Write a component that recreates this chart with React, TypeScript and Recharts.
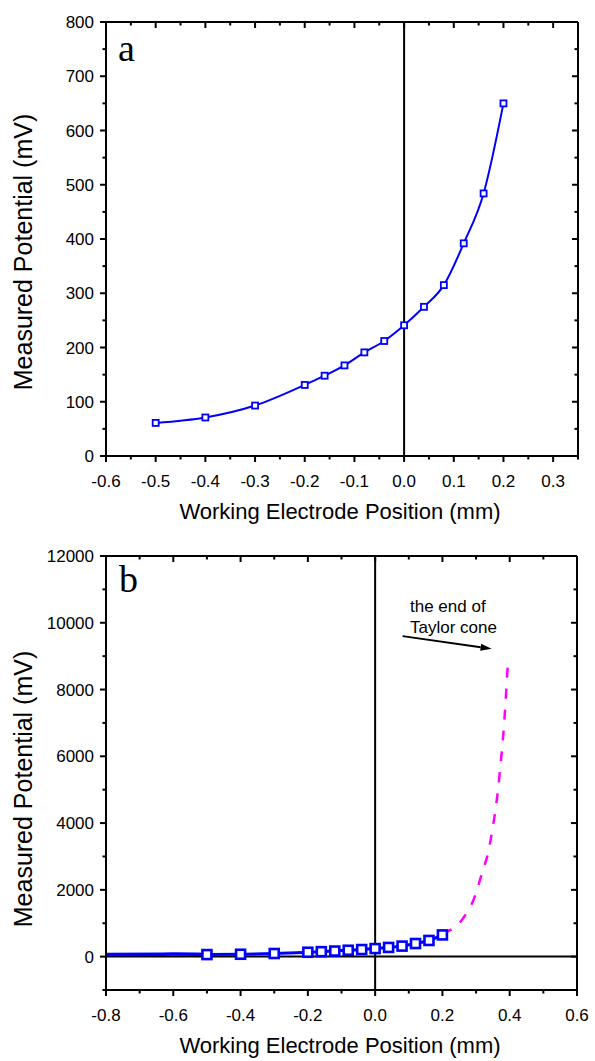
import { LineChart, Line, XAxis, YAxis, ReferenceLine } from "recharts";

// electrode position (mm) and measured potential (mV)
const positions = [-0.5, -0.4, -0.3, -0.2, -0.16, -0.12, -0.08, -0.04, 0, 0.04, 0.08, 0.12, 0.16, 0.2];
const potentials = [61, 71, 93, 131, 148, 167, 191, 212, 241, 275, 315, 392, 484, 650];

// panel b: line running in from the left edge
const tailPositions = [-0.8, -0.6, -0.5];
const tailPotentials = [60, 75, 61];

// panel b: dashed extrapolation up to the end of the Taylor cone
const conePositions = [0.2, 0.26, 0.297, 0.318, 0.336, 0.348, 0.358, 0.366, 0.373, 0.379, 0.387, 0.395];
const conePotentials = [700, 1130, 1820, 2520, 3120, 3770, 4420, 5070, 5780, 6420, 7520, 8900];

// annotation arrow, from text to curve
const arrowFrom = { x: 0.0815, y: 9600 };
const arrowTo = { x: 0.346, y: 9220 };

const aXTicks = [-0.6, -0.5, -0.4, -0.3, -0.2, -0.1, 0, 0.1, 0.2, 0.3];
const aXMinor = [-0.55, -0.45, -0.35, -0.25, -0.15, -0.05, 0.05, 0.15, 0.25, 0.35];
const aYTicks = [0, 100, 200, 300, 400, 500, 600, 700, 800];
const aYMinor = [50, 150, 250, 350, 450, 550, 650, 750];

const bXTicks = [-0.8, -0.6, -0.4, -0.2, 0, 0.2, 0.4, 0.6];
const bXMinor = [-0.7, -0.5, -0.3, -0.1, 0.1, 0.3, 0.5];
const bYTicks = [0, 2000, 4000, 6000, 8000, 10000, 12000];
const bYMinor = [-1000, 1000, 3000, 5000, 7000, 9000, 11000];

const mainData = positions.map((x, i) => ({ x, y: potentials[i] }));
const tailData = tailPositions.map((x, i) => ({ x, y: tailPotentials[i] }));
const coneData = conePositions.map((x, i) => ({ x, y: conePotentials[i] }));

const BLUE = "#0000ff";
const axisLine = { stroke: "#000", strokeWidth: 2 };

const isMajor = (majors: number[], v: number) => majors.some((m) => Math.abs(m - v) < 1e-9);

// bottom ticks, mirrored inward on the top edge
const makeXTick = (majors: number[], plotH: number) => (p: any) => {
  const v = p.payload.value;
  const major = isMajor(majors, v);
  const len = major ? 6 : 3.5;
  return (
    <g>
      <line x1={p.x} y1={p.y} x2={p.x} y2={p.y + len} stroke="#000" strokeWidth={2} />
      <line x1={p.x} y1={p.y - plotH} x2={p.x} y2={p.y - plotH + len} stroke="#000" strokeWidth={2} />
      {major && (
        <text x={p.x} y={p.y + 19} dy="0.71em" textAnchor="middle" fontSize={17} fill="#000">
          {v.toFixed(1)}
        </text>
      )}
    </g>
  );
};

// left ticks, mirrored inward on the right edge
const makeYTick = (majors: number[], plotW: number) => (p: any) => {
  const v = p.payload.value;
  const major = isMajor(majors, v);
  const len = major ? 6 : 3.5;
  return (
    <g>
      <line x1={p.x - len} y1={p.y} x2={p.x} y2={p.y} stroke="#000" strokeWidth={2} />
      <line x1={p.x + plotW - len} y1={p.y} x2={p.x + plotW} y2={p.y} stroke="#000" strokeWidth={2} />
      {major && (
        <text x={p.x - 12} y={p.y} dy="0.355em" textAnchor="end" fontSize={17} fill="#000">
          {v}
        </text>
      )}
    </g>
  );
};

const squareA = (p: any) => (
  <rect key={p.index} x={p.cx - 3} y={p.cy - 3} width={6} height={6} fill="#fff" stroke={BLUE} strokeWidth={1.8} />
);
const squareB = (p: any) => (
  <rect key={p.index} x={p.cx - 4.5} y={p.cy - 4.5} width={9} height={9} fill="#fff" stroke={BLUE} strokeWidth={2.6} />
);

const Arrow = (p: any) => {
  const { x1, y1, x2, y2 } = p;
  const ang = Math.atan2(y2 - y1, x2 - x1);
  const len = 11;
  const w = 3.5;
  const bx = x2 - len * Math.cos(ang);
  const by = y2 - len * Math.sin(ang);
  const pts = `${x2},${y2} ${bx - w * Math.sin(ang)},${by + w * Math.cos(ang)} ${bx + w * Math.sin(ang)},${by - w * Math.cos(ang)}`;
  return (
    <g>
      <line x1={x1} y1={y1} x2={bx} y2={by} stroke="#000" strokeWidth={2} />
      <polygon points={pts} fill="#000" />
    </g>
  );
};

function Frame({ xDomain, yDomain, xTicks, xMinor, yTicks, yMinor, plotW, plotH }: any) {
  const allX = [...xTicks, ...xMinor].sort((a, b) => a - b);
  const allY = [...yTicks, ...yMinor].sort((a, b) => a - b);
  return [
    <XAxis key="x" xAxisId="x" type="number" dataKey="x" domain={xDomain} ticks={allX} allowDataOverflow interval={0}
      height={1} tickSize={0} tickMargin={0} axisLine={axisLine} tickLine={false} tick={makeXTick(xTicks, plotH)} />,
    <YAxis key="y" yAxisId="y" type="number" domain={yDomain} ticks={allY} allowDataOverflow interval={0}
      width={1} tickSize={0} tickMargin={0} axisLine={axisLine} tickLine={false} tick={makeYTick(yTicks, plotW)} />,
    <ReferenceLine key="top" xAxisId="x" yAxisId="y" y={yDomain[1]} stroke="#000" strokeWidth={2} />,
    <ReferenceLine key="right" xAxisId="x" yAxisId="y" x={xDomain[1]} stroke="#000" strokeWidth={2} />,
  ];
}

export default function App() {
  return (
    <div style={{ position: "absolute", left: 0, top: 0, width: 595, height: 1061, background: "#fff", fontFamily: "'Liberation Sans', Arial, sans-serif" }}>
      <div style={{ position: "absolute", left: 0, top: 0 }}>
        <LineChart width={595} height={530} data={mainData} margin={{ top: 22, right: 17, bottom: 73, left: 105 }}>
          {Frame({ xDomain: [-0.6, 0.35], yDomain: [0, 800], xTicks: aXTicks, xMinor: aXMinor, yTicks: aYTicks, yMinor: aYMinor, plotW: 472, plotH: 434 })}
          <ReferenceLine xAxisId="x" yAxisId="y" x={0} stroke="#000" strokeWidth={2} />
          <Line xAxisId="x" yAxisId="y" dataKey="y" type="monotone" stroke={BLUE} strokeWidth={2}
            dot={squareA} activeDot={false} isAnimationActive={false} />
        </LineChart>
      </div>
      <div style={{ position: "absolute", left: 0, top: 530 }}>
        <LineChart width={595} height={531} data={mainData} margin={{ top: 26, right: 18, bottom: 70, left: 105 }}>
          {Frame({ xDomain: [-0.8, 0.6], yDomain: [-1000, 12000], xTicks: bXTicks, xMinor: bXMinor, yTicks: bYTicks, yMinor: bYMinor, plotW: 471, plotH: 434 })}
          <ReferenceLine xAxisId="x" yAxisId="y" x={0} stroke="#000" strokeWidth={2} />
          <ReferenceLine xAxisId="x" yAxisId="y" y={0} stroke="#000" strokeWidth={2} />
          <ReferenceLine xAxisId="x" yAxisId="y" segment={[arrowFrom, arrowTo]} shape={Arrow} />
          <Line xAxisId="x" yAxisId="y" data={tailData} dataKey="y" type="monotone" stroke={BLUE} strokeWidth={3.5}
            dot={false} activeDot={false} isAnimationActive={false} />
          <Line xAxisId="x" yAxisId="y" data={coneData} dataKey="y" type="monotone" stroke="#ff00ff" strokeWidth={2.5}
            strokeDasharray="10 11" dot={false} activeDot={false} isAnimationActive={false} />
          <Line xAxisId="x" yAxisId="y" dataKey="y" type="monotone" stroke={BLUE} strokeWidth={3}
            dot={squareB} activeDot={false} isAnimationActive={false} />
        </LineChart>
      </div>
      <svg width={595} height={1061} style={{ position: "absolute", left: 0, top: 0, pointerEvents: "none" }}>
        <text x={118} y={61} fontFamily="'Liberation Serif', 'Times New Roman', serif" fontSize={38}>a</text>
        <text x={119} y={592} fontFamily="'Liberation Serif', 'Times New Roman', serif" fontSize={38}>b</text>
        <text x={32} y={252} fontSize={25} textAnchor="middle" transform="rotate(-90 32 252)">Measured Potential (mV)</text>
        <text x={32} y={789} fontSize={25} textAnchor="middle" transform="rotate(-90 32 789)">Measured Potential (mV)</text>
        <text x={340} y={519} fontSize={22} textAnchor="middle">Working Electrode Position (mm)</text>
        <text x={340} y={1053} fontSize={22} textAnchor="middle">Working Electrode Position (mm)</text>
        <text x={410} y={612} fontSize={17}>the end of</text>
        <text x={410} y={633} fontSize={17}>Taylor cone</text>
      </svg>
    </div>
  );
}
